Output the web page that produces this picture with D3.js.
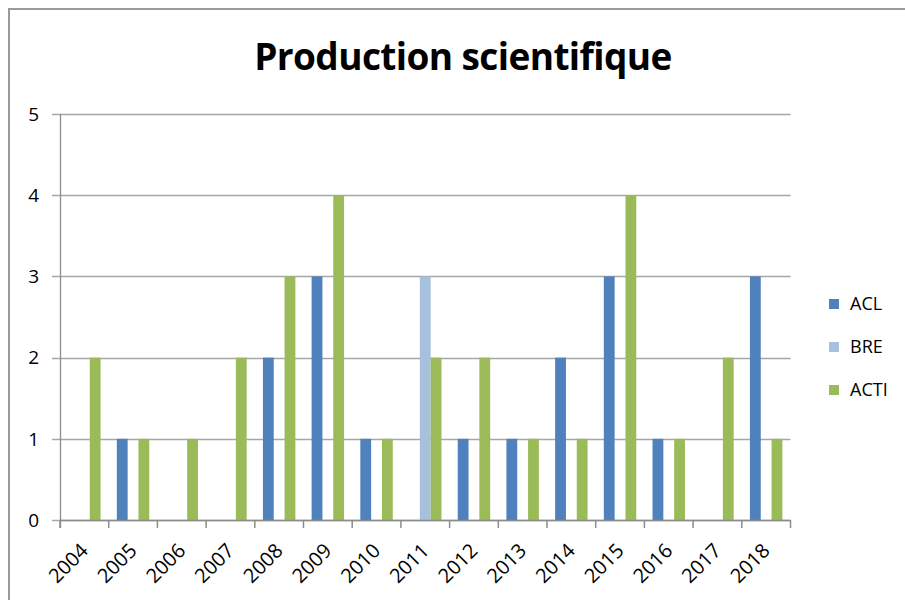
<!DOCTYPE html>
<html>
<head>
<meta charset="utf-8">
<script src="https://cdn.jsdelivr.net/npm/d3@7"></script>
<style>
  html, body { margin: 0; padding: 0; background: #fff; }
  svg { display: block; font-family: "Open Sans", "Liberation Sans", sans-serif; }
</style>
</head>
<body>
<svg id="chart" width="905" height="600"></svg>
<script>
// Publications per year and type
const years = ["2004","2005","2006","2007","2008","2009","2010","2011","2012","2013","2014","2015","2016","2017","2018"];
const seriesNames = ["ACL", "BRE", "ACTI"];
const acl  = [0, 1, 0, 0, 2, 3, 1, 0, 1, 1, 2, 3, 1, 0, 3];
const bre  = [0, 0, 0, 0, 0, 0, 0, 3, 0, 0, 0, 0, 0, 0, 0];
const acti = [2, 1, 1, 2, 3, 4, 1, 2, 2, 1, 1, 4, 1, 2, 1];
const yTicks = [0, 1, 2, 3, 4, 5];
const colors = ["#4F81BD", "#A7C0DE", "#9BBB59"];
const titleText = "Production scientifique";

const seriesValues = [acl, bre, acti];

const svg = d3.select("#chart");

// outer chart frame
svg.append("path")
  .attr("d", "M9,600 V9 H905")
  .attr("fill", "none")
  .attr("stroke", "#9a9a9a")
  .attr("stroke-width", 2);

const plot = { left: 60, right: 790.5, top: 114, bottom: 520 };

const x = d3.scaleBand().domain(years).range([plot.left, plot.right]).paddingInner(0).paddingOuter(0);
const xs = d3.scaleBand().domain(seriesNames).range([0, x.bandwidth()]).paddingInner(0).paddingOuter(0.75);
const y = d3.scaleLinear().domain([0, 5]).range([plot.bottom, plot.top]);

// horizontal gridlines
svg.append("g")
  .selectAll("line")
  .data(yTicks)
  .join("line")
  .attr("x1", plot.left - 8)
  .attr("x2", plot.right)
  .attr("y1", d => Math.round(y(d)) + 0.5)
  .attr("y2", d => Math.round(y(d)) + 0.5)
  .attr("stroke", "#a6a6a6")
  .attr("stroke-width", 1.3);

// y tick labels
svg.append("g")
  .selectAll("text")
  .data(yTicks)
  .join("text")
  .attr("x", 39)
  .attr("y", d => y(d))
  .attr("dy", "0.36em")
  .attr("text-anchor", "end")
  .attr("font-size", 19)
  .attr("fill", "#000")
  .text(d => d);

// bars
const rows = years.map((yr, i) => ({ year: yr, values: seriesNames.map((s, k) => ({ key: s, value: seriesValues[k][i], color: colors[k] })) }));
const groups = svg.append("g")
  .selectAll("g")
  .data(rows)
  .join("g")
  .attr("transform", d => `translate(${x(d.year)},0)`);
groups.selectAll("rect")
  .data(d => d.values.filter(v => v.value > 0))
  .join("rect")
  .attr("x", d => xs(d.key))
  .attr("width", xs.bandwidth())
  .attr("y", d => y(d.value))
  .attr("height", d => y(0) - y(d.value))
  .attr("fill", d => d.color);

// x axis
const xAxis = svg.append("g");
xAxis.append("line")
  .attr("x1", plot.left).attr("x2", plot.right)
  .attr("y1", plot.bottom + 0.5).attr("y2", plot.bottom + 0.5)
  .attr("stroke", "#8c8c8c").attr("stroke-width", 1.5);
const boundaries = years.map(yr => x(yr)).concat([plot.right]);
xAxis.selectAll("line.tick")
  .data(boundaries)
  .join("line")
  .attr("class", "tick")
  .attr("x1", d => d).attr("x2", d => d)
  .attr("y1", plot.bottom).attr("y2", plot.bottom + 8)
  .attr("stroke", "#8c8c8c").attr("stroke-width", 1.5);
// y axis line
svg.append("line")
  .attr("x1", plot.left + 0.5).attr("x2", plot.left + 0.5)
  .attr("y1", plot.top).attr("y2", plot.bottom + 8)
  .attr("stroke", "#8c8c8c").attr("stroke-width", 1.3);

// rotated year labels
svg.append("g")
  .selectAll("text")
  .data(years)
  .join("text")
  .attr("transform", d => `translate(${x(d) + x.bandwidth() / 2 + 5},${plot.bottom + 32}) rotate(-45)`)
  .attr("text-anchor", "end")
  .attr("font-size", 20)
  .attr("fill", "#000")
  .text(d => d);

// title
svg.append("text")
  .attr("x", 463)
  .attr("y", 70)
  .attr("text-anchor", "middle")
  .attr("font-weight", "bold")
  .attr("font-size", 37)
  .attr("letter-spacing", -0.6)
  .attr("fill", "#000")
  .text(titleText);

// legend
const legend = svg.append("g")
  .selectAll("g")
  .data(seriesNames)
  .join("g")
  .attr("transform", (d, i) => `translate(829,${299 + i * 43})`);
legend.append("rect")
  .attr("width", 10).attr("height", 10)
  .attr("fill", (d, i) => colors[i]);
legend.append("text")
  .attr("x", 21).attr("y", 5)
  .attr("dy", "0.36em")
  .attr("font-size", 18)
  .attr("fill", "#000")
  .text(d => d);
</script>
</body>
</html>
